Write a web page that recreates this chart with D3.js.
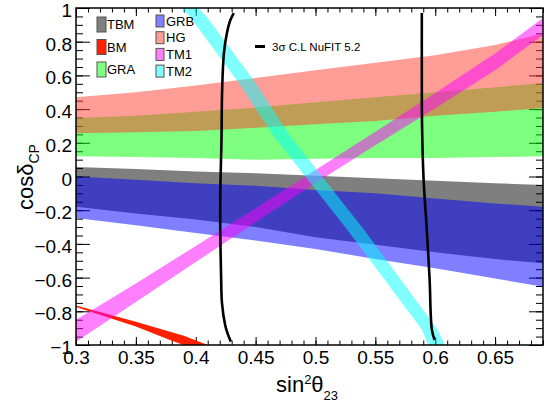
<!DOCTYPE html>
<head>
    <meta charset="UTF-8">
    <title>cos delta CP vs sin2 theta23</title>
</head>
<style>
    body {
        margin: 0;
        background: #fff;
        font-family: "Liberation Sans", Arial, sans-serif;
    }
    .tick text {
        font-family: "Liberation Sans", Arial, sans-serif;
    }
</style>
<body>
<script src="https://cdn.jsdelivr.net/npm/d3@7"></script>
<script>
    // x grid shared by the horizontal bands (sin^2 theta23)
    var bandX = [0.30, 0.35, 0.40, 0.45, 0.50, 0.55, 0.60, 0.65, 0.69];

    // cos(delta_CP) edges of each band
    var tbmUpper = [0.056, 0.045, 0.030, 0.020, 0.005, -0.010, -0.025, -0.040, -0.050];
    var tbmLower = [-0.180, -0.220, -0.255, -0.300, -0.360, -0.405, -0.450, -0.490, -0.515];
    var grbUpper = [0.000, -0.020, -0.040, -0.055, -0.080, -0.100, -0.130, -0.160, -0.180];
    var grbLower = [-0.246, -0.290, -0.335, -0.380, -0.430, -0.490, -0.545, -0.605, -0.654];
    var graUpper = [0.347, 0.360, 0.385, 0.410, 0.440, 0.470, 0.500, 0.530, 0.555];
    var graLower = [0.120, 0.115, 0.110, 0.100, 0.105, 0.110, 0.110, 0.115, 0.120];
    var hgUpper = [0.470, 0.500, 0.540, 0.585, 0.630, 0.675, 0.720, 0.780, 0.850];
    var hgLower = [0.257, 0.262, 0.270, 0.290, 0.310, 0.330, 0.360, 0.385, 0.406];

    // TM1: rising diagonal strip on the same grid
    var tm1Upper = [-0.850, -0.635, -0.412, -0.188, 0.038, 0.265, 0.495, 0.730, 0.940];
    var tm1Lower = [-0.980, -0.745, -0.508, -0.272, -0.038, 0.185, 0.405, 0.630, 0.840];

    // BM: thin red strip in the lower left corner
    var bmX = [0.300, 0.350, 0.380, 0.390, 0.410];
    var bmUpper = [-0.765, -0.862, -0.925, -0.945, -1.000];
    var bmLower = [-0.775, -0.890, -0.975, -1.000, -1.000];

    // TM2: falling strip, given as sin^2 range for each cos value
    var tm2Cos = [1.000, 0.950, 0.555, 0.250, -0.320, -0.910, -1.000];
    var tm2Left = [0.388, 0.395, 0.436, 0.464, 0.527, 0.589, 0.594];
    var tm2Right = [0.402, 0.409, 0.450, 0.478, 0.541, 0.602, 0.608];

    // 3 sigma NuFIT 5.2 contour (two branches)
    var nuLeftX = [0.4318, 0.4290, 0.4260, 0.4235, 0.4220, 0.4215, 0.4205, 0.4205, 0.4212, 0.4219, 0.4245, 0.4265, 0.4293];
    var nuLeftY = [0.97, 0.93, 0.85, 0.73, 0.50, 0.22, -0.10, -0.32, -0.60, -0.75, -0.88, -0.93, -0.98];
    var nuRightX = [0.5888, 0.5888, 0.5890, 0.5903, 0.5930, 0.5953, 0.5972, 0.5995];
    var nuRightY = [0.97, 0.60, 0.30, -0.02, -0.32, -0.61, -0.91, -0.97];

    var xTicks = [0.3, 0.35, 0.4, 0.45, 0.5, 0.55, 0.6, 0.65];
    var yTicks = [-1, -0.8, -0.6, -0.4, -0.2, 0, 0.2, 0.4, 0.6, 0.8, 1];

    var legendLeft = [
        {name: "TBM", color: "#000", alpha: 0.5},
        {name: "BM", color: "#ff2000", alpha: 1},
        {name: "GRA", color: "#00ff00", alpha: 0.5}
    ];
    var legendRight = [
        {name: "GRB", color: "#0000ff", alpha: 0.5},
        {name: "HG", color: "#ff3b2d", alpha: 0.5},
        {name: "TM1", color: "#ff00ff", alpha: 0.5},
        {name: "TM2", color: "#00ffff", alpha: 0.5}
    ];

    var W = 547, H = 402;
    var fL = 76, fR = 543, fT = 8, fB = 345;

    var x = d3.scaleLinear().domain([0.3, 0.69]).range([fL, fR]);
    var y = d3.scaleLinear().domain([-1, 1]).range([fB, fT]);

    var svg = d3.select("body").append("svg")
        .attr("width", W)
        .attr("height", H);

    svg.append("defs").append("clipPath")
        .attr("id", "plot")
        .append("rect")
        .attr("x", fL).attr("y", fT)
        .attr("width", fR - fL).attr("height", fB - fT);

    var fmt = d3.format("~g");

    // axes: major + minor ticks, all pointing inward
    function addAxis(axis, tx, ty, labels) {
        var g = svg.append("g")
            .attr("transform", "translate(" + tx + "," + ty + ")")
            .call(axis);
        g.select(".domain").remove();
        g.selectAll("line").attr("stroke", "#000").attr("stroke-width", 1);
        if (!labels) g.selectAll("text").remove();
        return g;
    }

    var xLab = addAxis(d3.axisBottom(x).tickValues(xTicks).tickSize(-8).tickPadding(6).tickFormat(fmt), 0, fB, true);
    addAxis(d3.axisBottom(x).ticks(39).tickSize(-4.5).tickFormat(""), 0, fB, false);
    addAxis(d3.axisTop(x).tickValues(xTicks).tickSize(-8), 0, fT, false);
    addAxis(d3.axisTop(x).ticks(39).tickSize(-4.5), 0, fT, false);

    var yLab = addAxis(d3.axisLeft(y).tickValues(yTicks).tickSize(-14).tickPadding(4).tickFormat(fmt), fL, 0, true);
    addAxis(d3.axisLeft(y).ticks(40).tickSize(-7).tickFormat(""), fL, 0, false);
    addAxis(d3.axisRight(y).tickValues(yTicks).tickSize(-14), fR, 0, false);
    addAxis(d3.axisRight(y).ticks(40).tickSize(-7), fR, 0, false);

    xLab.selectAll("text").attr("font-size", 19).attr("fill", "#000");
    yLab.selectAll("text").attr("font-size", 19).attr("fill", "#000").attr("dy", "0.45em");

    // bands
    var plot = svg.append("g").attr("clip-path", "url(#plot)");

    function band(xs, lo, hi, color, alpha) {
        var pts = xs.map(function(v, i) { return {x: v, lo: lo[i], hi: hi[i]}; });
        plot.append("path")
            .datum(pts)
            .attr("d", d3.area()
                .x(function(d) { return x(d.x); })
                .y0(function(d) { return y(d.lo); })
                .y1(function(d) { return y(d.hi); }))
            .attr("fill", color)
            .attr("fill-opacity", alpha);
    }

    band(bandX, tbmLower, tbmUpper, "#000", 0.5);
    band(bandX, grbLower, grbUpper, "#0000ff", 0.5);
    band(bandX, graLower, graUpper, "#00ff00", 0.5);
    band(bandX, hgLower, hgUpper, "#ff3b2d", 0.5);
    band(bmX, bmLower, bmUpper, "#ff2000", 1);
    band(bandX, tm1Lower, tm1Upper, "#ff00ff", 0.5);

    var tm2 = tm2Cos.map(function(c, i) { return {c: c, l: tm2Left[i], r: tm2Right[i]}; });
    plot.append("path")
        .datum(tm2)
        .attr("d", d3.area()
            .y(function(d) { return y(d.c); })
            .x0(function(d) { return x(d.l); })
            .x1(function(d) { return x(d.r); }))
        .attr("fill", "#00ffff")
        .attr("fill-opacity", 0.5);

    // NuFIT contour
    var contour = d3.line()
        .x(function(d) { return x(d[0]); })
        .y(function(d) { return y(d[1]); })
        .curve(d3.curveCatmullRom);

    [[nuLeftX, nuLeftY], [nuRightX, nuRightY]].forEach(function(c) {
        plot.append("path")
            .datum(d3.zip(c[0], c[1]))
            .attr("d", contour)
            .attr("fill", "none")
            .attr("stroke", "#000")
            .attr("stroke-width", 2.6);
    });

    // frame
    svg.append("rect")
        .attr("x", fL).attr("y", fT)
        .attr("width", fR - fL).attr("height", fB - fT)
        .attr("fill", "none")
        .attr("stroke", "#000")
        .attr("stroke-width", 1.5);

    // legend
    function legendCol(items, bx, tx, y0, dy, bw, bh) {
        var g = svg.selectAll(null)
            .data(items)
            .enter().append("g")
            .attr("transform", function(d, i) { return "translate(0," + (y0 + i * dy) + ")"; });
        g.append("rect")
            .attr("x", bx).attr("y", -bh / 2)
            .attr("width", bw).attr("height", bh)
            .attr("fill", function(d) { return d.color; })
            .attr("fill-opacity", function(d) { return d.alpha; })
            .attr("stroke", "#555")
            .attr("stroke-width", 1);
        g.append("text")
            .attr("x", tx)
            .attr("dy", ".35em")
            .attr("font-size", 13)
            .text(function(d) { return d.name; });
    }
    legendCol(legendLeft, 97, 107, 24.5, 22.5, 9, 15);
    legendCol(legendRight, 156, 166, 21, 16.7, 8, 12);

    svg.append("line")
        .attr("x1", 255).attr("x2", 265)
        .attr("y1", 46.5).attr("y2", 46.5)
        .attr("stroke", "#000")
        .attr("stroke-width", 3);
    svg.append("text")
        .attr("x", 272).attr("y", 46.5)
        .attr("dy", ".35em")
        .attr("font-size", 11.5)
        .text("3\u03c3 C.L NuFIT 5.2");

    // axis titles
    var xt = svg.append("text")
        .attr("x", 276).attr("y", 392)
        .attr("font-size", 22);
    xt.append("tspan").text("sin");
    xt.append("tspan").attr("font-size", 13).attr("dy", -8).text("2");
    xt.append("tspan").attr("dy", 8).text("\u03b8");
    xt.append("tspan").attr("font-size", 13).attr("dy", 8).text("23");

    var yt = svg.append("text")
        .attr("transform", "translate(33,210) rotate(-90)")
        .attr("font-size", 22);
    yt.append("tspan").text("cos\u03b4");
    yt.append("tspan").attr("font-size", 14).attr("dy", 6).text("CP");
</script>
</body>
</html>
